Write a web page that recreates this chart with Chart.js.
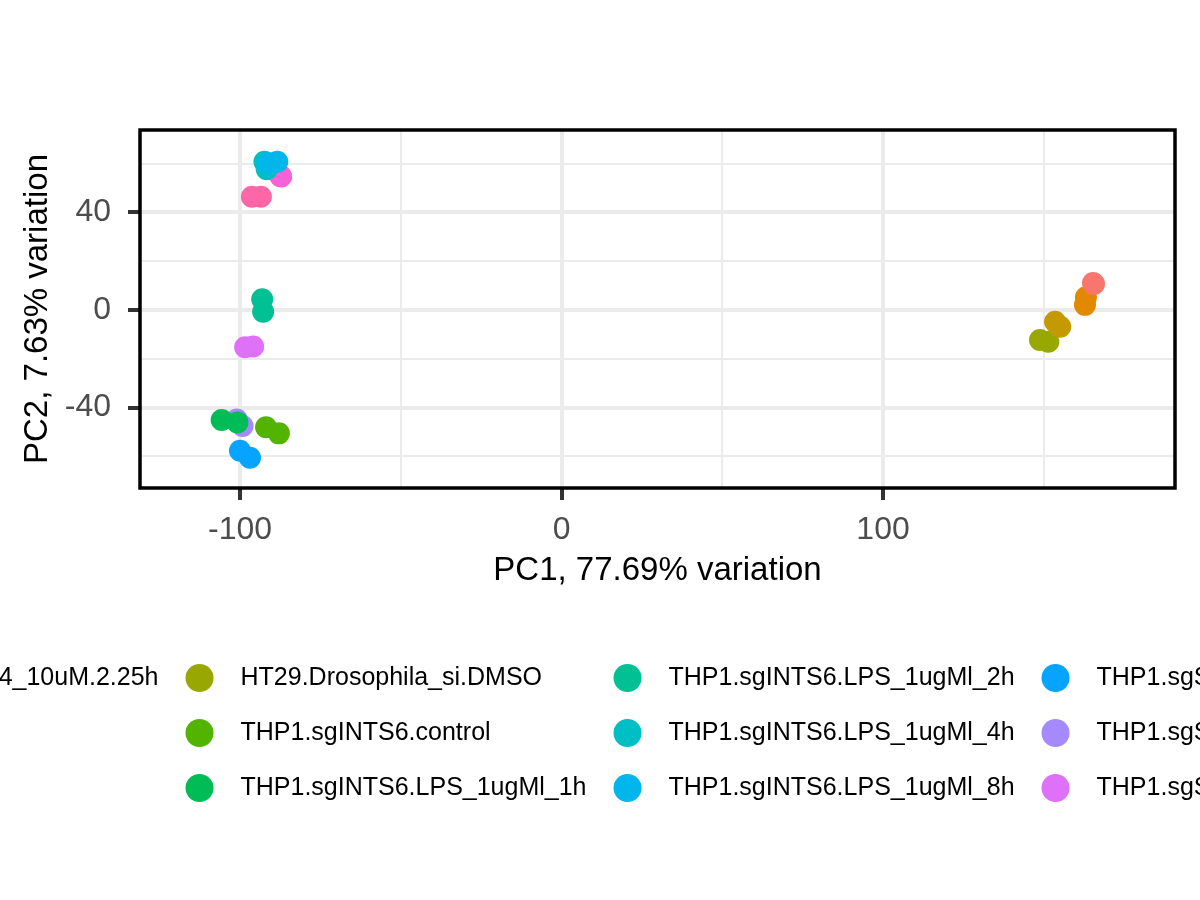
<!DOCTYPE html>
<html>
<head>
<meta charset="utf-8">
<title>PCA biplot</title>
<script src="https://cdn.jsdelivr.net/npm/chart.js@4.4.1/dist/chart.umd.min.js"></script>
<style>
  html, body { margin: 0; padding: 0; background: #ffffff; }
  #wrap { width: 1200px; height: 900px; }
</style>
</head>
<body>
<div id="wrap"><canvas id="pcaChart" width="1200" height="900"></canvas></div>
<script>
// sample groups (legend order, filled column by column)
const groups = [
  "HT29.Drosophila_si.BRD4i_ABBV-744_10uM.2.25h",
  "HT29.Drosophila_si.CDK9i.1h",
  "HT29.Drosophila_si.CDK9i.2h",
  "HT29.Drosophila_si.DMSO",
  "THP1.sgINTS6.control",
  "THP1.sgINTS6.LPS_1ugMl_1h",
  "THP1.sgINTS6.LPS_1ugMl_2h",
  "THP1.sgINTS6.LPS_1ugMl_4h",
  "THP1.sgINTS6.LPS_1ugMl_8h",
  "THP1.sgSCR.control",
  "THP1.sgSCR.LPS_1h",
  "THP1.sgSCR.LPS_2h",
  "THP1.sgSCR.LPS_4h",
  "THP1.sgSCR.LPS_8h"
];

// two replicates per group
const pc1 = [
  [165.3, 165.6], [163.1, 162.8], [153.5, 155.1], [148.8, 151.4],
  [-91.9, -87.9], [-105.7, -100.8], [-93.1, -92.8], [-92.4, -91.7],
  [-91.2, -88.4], [-100.0, -96.9], [-101.0, -99.2], [-98.4, -95.9],
  [-87.2, -87.5], [-96.3, -93.5]
];
const pc2 = [
  [11.1, 10.7], [5.2, 2.1], [-4.8, -6.9], [-12.3, -13.0],
  [-48.1, -50.6], [-45.1, -46.1], [4.4, -0.7], [60.8, 57.7],
  [60.2, 60.8], [-57.7, -60.6], [-44.9, -47.6], [-15.3, -15.0],
  [54.7, 55.0], [46.4, 46.4]
];

const xTicks = [-100, -50, 0, 50, 100, 150];
const xTickLabels = ["-100", "", "0", "", "100", ""];
const yTicks = [-60, -40, -20, 0, 20, 40, 60];
const yTickLabels = ["", "-40", "", "0", "", "40", ""];

const palette = [
  "#F8766D", "#E38900", "#C49A00", "#99A800", "#53B400", "#00BC56", "#00C094",
  "#00BFC4", "#00B6EB", "#06A4FF", "#A58AFF", "#DF70F8", "#FB61D7", "#FF66A8"
];

const fontFamily = '"Liberation Sans", Arial, Helvetica, sans-serif';

var datasets = groups.map(function(g, i) {
  return {
    label: g,
    data: pc1[i].map(function(x, j) { return {x: x, y: pc2[i][j]}; }),
    backgroundColor: palette[i],
    pointRadius: 11,
    pointHoverRadius: 11,
    pointBorderWidth: 0,
    order: i === 8 ? -1 : i
  };
});

// black border round the panel, drawn over grid and points
var panelFrame = {
  id: 'panelFrame',
  afterDraw: function(chart) {
    var ctx = chart.ctx, a = chart.chartArea;
    ctx.save();
    ctx.strokeStyle = '#000000';
    ctx.lineWidth = 3.5;
    ctx.strokeRect(a.left, a.top, a.right - a.left, a.bottom - a.top);
    ctx.restore();
  }
};

// ggplot style legend below the plot: 3 rows, filled by columns, centred
var bottomLegend = {
  id: 'bottomLegend',
  afterDraw: function(chart) {
    var ctx = chart.ctx;
    var rows = 3, rowStep = 55, firstRow = 678, r = 14, keyToText = 41, colGap = 41;
    var cols = Math.ceil(groups.length / rows);
    ctx.save();
    ctx.font = '25px ' + fontFamily;
    var widths = [];
    for (var c = 0; c < cols; c++) {
      var w = 0;
      for (var k = c * rows; k < Math.min((c + 1) * rows, groups.length); k++) {
        w = Math.max(w, ctx.measureText(groups[k]).width);
      }
      widths.push(w);
    }
    var total = r + colGap * (cols - 1);
    widths.forEach(function(w) { total += keyToText + w; });
    var x = chart.width / 2 - total / 2 + r;
    ctx.textBaseline = 'middle';
    ctx.textAlign = 'left';
    for (var c2 = 0; c2 < cols; c2++) {
      for (var row = 0; row < rows; row++) {
        var idx = c2 * rows + row;
        if (idx >= groups.length) break;
        var y = firstRow + row * rowStep;
        ctx.fillStyle = palette[idx];
        ctx.beginPath();
        ctx.arc(x, y, r, 0, Math.PI * 2);
        ctx.fill();
        ctx.fillStyle = '#000000';
        ctx.fillText(groups[idx], x + keyToText, y);
      }
      x += keyToText + widths[c2] + colGap;
    }
    ctx.restore();
  }
};

var ctx = document.getElementById('pcaChart');
var pcaChart = new Chart(ctx, {
  type: 'scatter',
  data: { datasets: datasets },
  options: {
    responsive: false,
    devicePixelRatio: 1,
    animation: false,
    layout: { padding: { left: 0, top: 130, right: 25, bottom: 309 } },
    plugins: {
      legend: { display: false },
      tooltip: { enabled: false }
    },
    scales: {
      x: {
        type: 'linear',
        min: -131.1,
        max: 190.8,
        afterBuildTicks: function(scale) {
          scale.ticks = xTicks.map(function(v) { return {value: v}; });
        },
        afterFit: function(scale) { scale.height = 103; },
        border: { display: false },
        grid: {
          color: '#EBEBEB',
          lineWidth: function(c) { return xTickLabels[c.index] ? 4 : 2; },
          tickLength: 12,
          tickColor: function(c) { return xTickLabels[c.index] ? '#333333' : 'rgba(0,0,0,0)'; },
          tickWidth: 4
        },
        ticks: {
          padding: 11,
          color: '#4D4D4D',
          font: { family: fontFamily, size: 32 },
          maxRotation: 0,
          autoSkip: false,
          callback: function(value, index) { return xTickLabels[index]; }
        },
        title: {
          display: true,
          text: 'PC1, 77.69% variation',
          color: '#000000',
          font: { family: fontFamily, size: 33, lineHeight: 1.2 },
          padding: { top: 0, bottom: 0 }
        }
      },
      y: {
        type: 'linear',
        min: -73.0,
        max: 73.8,
        afterBuildTicks: function(scale) {
          scale.ticks = yTicks.map(function(v) { return {value: v}; });
        },
        afterFit: function(scale) { scale.width = 140; },
        border: { display: false },
        grid: {
          color: '#EBEBEB',
          lineWidth: function(c) { return yTickLabels[c.index] ? 4 : 2; },
          tickLength: 12,
          tickColor: function(c) { return yTickLabels[c.index] ? '#333333' : 'rgba(0,0,0,0)'; },
          tickWidth: 4
        },
        ticks: {
          padding: 17,
          color: '#4D4D4D',
          font: { family: fontFamily, size: 32 },
          autoSkip: false,
          callback: function(value, index) { return yTickLabels[index]; }
        },
        title: {
          display: true,
          text: 'PC2, 7.63% variation',
          color: '#000000',
          font: { family: fontFamily, size: 33, lineHeight: 1.2 },
          padding: { top: 18, bottom: 0 }
        }
      }
    }
  },
  plugins: [panelFrame, bottomLegend]
});
</script>
</body>
</html>
